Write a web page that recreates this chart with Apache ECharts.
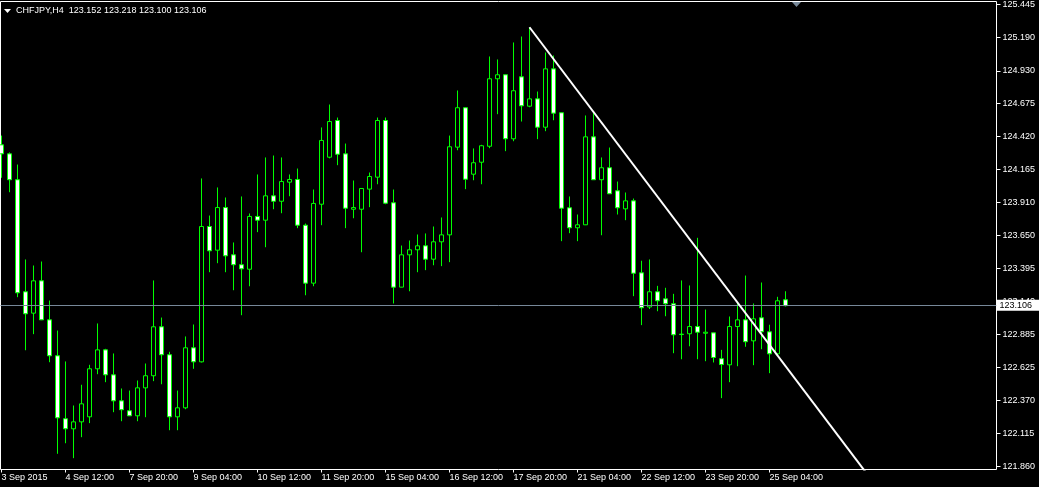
<!DOCTYPE html>
<html><head><meta charset="utf-8">
<script src="https://cdn.jsdelivr.net/npm/echarts@6/dist/echarts.min.js"></script>
<style>html,body{margin:0;padding:0;background:#000;}#c{width:1039px;height:487px;}</style>
</head><body><div id="c"></div>
<script>
const symbolName = 'CHFJPY,H4';
const xTickLabels = ['3 Sep 2015','4 Sep 12:00','7 Sep 20:00','9 Sep 04:00','10 Sep 12:00','11 Sep 20:00','15 Sep 04:00','16 Sep 12:00','17 Sep 20:00','21 Sep 04:00','22 Sep 12:00','23 Sep 20:00','25 Sep 04:00'];
const yTickValues = [125.445,125.190,124.930,124.675,124.420,124.165,123.910,123.650,123.395,123.140,122.885,122.625,122.370,122.115,121.860];

const opens = [124.355,124.285,124.084,123.214,123.048,123.299,122.996,122.717,122.228,122.150,
122.204,122.243,122.616,122.763,122.569,122.367,122.290,122.251,122.468,122.562,
122.942,122.725,122.243,122.313,122.779,122.670,123.721,123.537,123.868,123.501,
123.424,123.389,123.799,123.770,123.959,123.917,124.065,124.086,123.731,123.281,
123.894,124.259,124.544,124.285,123.855,123.855,124.011,124.104,124.544,123.905,
123.250,123.501,123.540,123.571,123.467,123.602,123.656,124.337,124.643,124.127,
124.220,124.344,124.868,124.899,124.402,124.883,124.655,124.712,124.492,124.945,
124.604,123.866,123.711,123.734,124.417,124.084,124.177,123.998,123.858,123.920,
123.361,123.096,123.214,123.159,123.121,122.885,122.888,122.944,122.892,122.895,
122.694,122.647,122.944,122.996,122.833,123.012,122.903,122.732,123.152];
const highs = [124.427,124.296,124.202,123.465,123.418,123.449,123.146,122.913,122.673,122.331,
122.492,122.647,122.968,122.771,122.735,122.463,122.447,122.525,122.657,123.302,
123.014,122.748,122.447,122.867,122.960,124.094,123.806,124.024,123.946,123.597,
123.954,123.822,124.125,124.257,124.272,124.257,124.125,124.171,123.744,124.008,
124.490,124.668,124.567,124.365,124.078,124.016,124.140,124.567,124.567,124.008,
123.573,123.612,123.659,123.667,123.721,123.791,124.427,124.777,124.645,124.327,
124.355,125.041,125.018,124.900,125.150,125.196,125.266,124.769,125.072,125.049,
124.604,123.954,123.814,124.583,124.614,124.257,124.334,124.070,123.985,123.938,
123.455,123.465,123.260,123.245,123.198,123.302,123.263,123.633,123.076,122.895,
122.763,123.022,123.125,123.340,123.123,123.286,122.958,123.175,123.218];
const lows = [124.099,123.987,123.172,122.760,122.885,122.994,122.667,121.956,122.038,121.922,
122.085,122.194,122.574,122.512,122.279,122.209,122.250,122.209,122.240,122.520,
122.496,122.139,122.139,122.302,122.616,122.665,123.366,123.436,123.366,123.226,
123.032,123.257,123.677,123.560,123.855,123.824,123.956,123.708,123.187,123.257,
123.731,124.250,124.197,123.708,123.785,123.521,123.871,124.049,123.894,123.123,
123.249,123.218,123.366,123.382,123.420,123.413,123.444,124.313,124.011,124.080,
124.049,124.329,124.593,124.306,124.383,124.536,124.647,124.399,124.461,124.546,
123.607,123.669,123.607,123.732,124.082,123.653,123.973,123.814,123.770,123.180,
122.955,123.080,123.063,123.024,122.737,122.690,122.791,122.690,122.675,122.665,
122.388,122.512,122.636,122.787,122.644,122.768,122.582,122.717,123.100];
const closes = [124.285,124.084,123.206,123.043,123.299,122.996,122.717,122.235,122.150,122.204,
122.344,122.616,122.763,122.569,122.367,122.298,122.251,122.468,122.562,122.942,
122.725,122.243,122.313,122.779,122.670,123.721,123.532,123.868,123.493,123.424,
123.392,123.799,123.770,123.959,123.917,124.070,124.086,123.731,123.281,123.900,
124.389,124.536,124.282,123.863,123.868,124.016,124.109,124.544,123.902,123.250,
123.501,123.540,123.571,123.467,123.602,123.656,124.340,124.643,124.088,124.216,
124.348,124.868,124.899,124.402,124.775,124.658,124.712,124.492,124.945,124.601,
123.863,123.711,123.734,124.417,124.084,124.177,123.975,123.866,123.920,123.358,
123.090,123.214,123.144,123.121,122.880,122.882,122.944,122.900,122.900,122.704,
122.649,122.944,122.996,122.826,123.004,122.903,122.732,123.144,123.106];

const trendX = [66, 109.4];
const trendY = [125.268, 121.700];
const bidPrice = 123.106;

const candles = opens.map((o, i) => [i, o, closes[i], lows[i], highs[i]]);
const tickIdx = xTickLabels.map((_, i) => i * 8);
const last = opens.length - 1;
const FONT = 'Liberation Sans, Arial, sans-serif';

const chart = echarts.init(document.getElementById('c'), null, {renderer: 'canvas'});
chart.setOption({
  animation: false,
  backgroundColor: '#000',
  title: {
    text: symbolName + '  ' + [opens[last], highs[last], lows[last], closes[last]].map(v => v.toFixed(3)).join(' '),
    left: 16, top: 6, padding: 0,
    textStyle: {color: '#fff', fontSize: 9, fontWeight: 'normal', fontFamily: FONT}
  },
  graphic: [
    {type: 'polygon', shape: {points: [[4, 9], [11, 9], [7.5, 13]]}, style: {fill: '#fff'}, silent: true},
    {type: 'polygon', shape: {points: [[792, 2], [801, 2], [796.5, 7]]}, style: {fill: '#778899'}, silent: true, z: 10}
  ],
  grid: {left: 0.5, top: 1.5, right: 42.5, bottom: 17.5, show: true, borderColor: '#fff', borderWidth: 1,
         backgroundColor: '#000', containLabel: false, outerBoundsMode: 'none'},
  xAxis: {
    type: 'value', min: -0.125, max: 124.375,
    axisLine: {show: false, onZero: false}, splitLine: {show: false},
    axisTick: {show: true, length: 3, lineStyle: {color: '#fff'}, customValues: tickIdx},
    axisLabel: {customValues: tickIdx, formatter: v => xTickLabels[Math.round(v / 8)] || '',
                color: '#fff', fontSize: 9, fontFamily: FONT, align: 'left', margin: 4}
  },
  yAxis: {
    type: 'value', position: 'right', min: 121.834, max: 125.468, scale: true,
    axisLine: {show: false, onZero: false}, splitLine: {show: false},
    axisTick: {show: true, length: 4, lineStyle: {color: '#fff'}, customValues: yTickValues},
    axisLabel: {customValues: yTickValues, formatter: v => Number(v).toFixed(3),
                color: '#fff', fontSize: 9, fontFamily: FONT, margin: 6}
  },
  series: [
    {
      type: 'candlestick', data: candles, encode: {x: 0, y: [1, 2, 3, 4]},
      barWidth: 4, silent: true,
      itemStyle: {color: '#000', color0: '#fff', borderColor: '#00ff00', borderColor0: '#00ff00',
                  borderColorDoji: '#00ff00', borderWidth: 1},
      markLine: {
        silent: true, symbol: ['none', 'none'], animation: false,
        lineStyle: {color: '#778899', width: 1, type: 'solid'},
        label: {show: true, position: 'end', distance: 0, formatter: () => bidPrice.toFixed(3),
                backgroundColor: '#fff', color: '#000', fontSize: 9, fontFamily: FONT,
                padding: [1, 10, 0, 3], lineHeight: 10},
        emphasis: {disabled: true},
        data: [{yAxis: bidPrice}]
      }
    },
    {
      type: 'line', data: trendX.map((x, i) => [x, trendY[i]]), symbol: 'none', silent: true,
      lineStyle: {color: '#fff', width: 2}, clip: true, z: 5
    }
  ]
});
</script></body></html>
